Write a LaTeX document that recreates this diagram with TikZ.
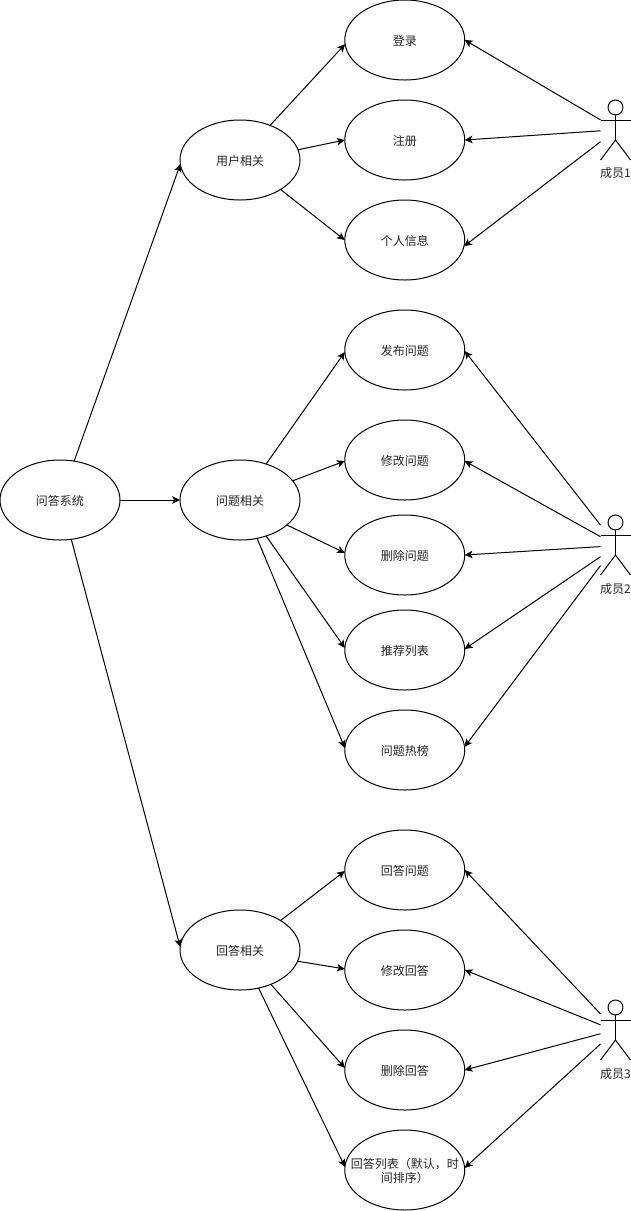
\documentclass[tikz,border=0pt]{standalone}
\usepackage{fontspec}
\setmainfont{Noto Sans CJK SC}
\usetikzlibrary{arrows.meta,shapes.geometric,calc}
\tikzset{
  uc/.style={ellipse,draw=black,line width=0.75pt,minimum width=90pt,minimum height=60pt,inner sep=0pt,outer sep=0pt,font=\fontsize{9}{11}\selectfont,text=black!85,text height=8pt,text depth=0pt},
  actorbox/.style={rectangle,draw=none,minimum width=22.5pt,minimum height=45pt,inner sep=0pt,outer sep=0pt},
  actorline/.style={line width=0.75pt,draw=black},
  actorname/.style={font=\fontsize{9}{11}\selectfont,text=black!85,inner sep=0pt,text height=8pt,text depth=0pt},
  conn/.style={line width=0.75pt,draw=black,-{Stealth[length=5.8pt,width=5.6pt,inset=1.4pt]}}
}
\newcommand{\stickfigure}[1]{%
  \draw[actorline] ($(#1.north)+(0,-5.6pt)$) circle[radius=5.6pt];
  \draw[actorline] ($(#1.north)+(0,-11.25pt)$) -- ($(#1.north)+(0,-30pt)$);
  \draw[actorline] ($(#1.north west)+(0,-15pt)$) -- ($(#1.north east)+(0,-15pt)$);
  \draw[actorline] (#1.south west) -- ($(#1.north)+(0,-30pt)$) -- (#1.south east);
}
\begin{document}
\begin{tikzpicture}[x=0.75pt,y=-0.75pt]
\useasboundingbox[fill=white] (0,0) rectangle (631,1211);
% root and groups
\node[uc] (root) at (60,500) {问答系统};
\node[uc] (m1) at (240,160) {用户相关};
\node[uc] (m2) at (240,500) {问题相关};
\node[uc] (m3) at (240,950) {回答相关};
% use cases
\node[uc] (u1) at (404.75,40) {登录};
\node[uc] (u2) at (404.75,140) {注册};
\node[uc] (u3) at (404.75,240) {个人信息};
\node[uc] (q1) at (404.75,350) {发布问题};
\node[uc] (q2) at (404.75,460) {修改问题};
\node[uc] (q3) at (404.75,555) {删除问题};
\node[uc] (q4) at (404.75,650) {推荐列表};
\node[uc] (q5) at (404.75,750) {问题热榜};
\node[uc] (a1) at (404.75,870) {回答问题};
\node[uc] (a2) at (404.75,970) {修改回答};
\node[uc] (a3) at (404.75,1070) {删除回答};
\node[uc,label={[font=\fontsize{9}{10.5}\selectfont,text=black!85,align=center,inner sep=0pt,yshift=-0.75pt]center:回答列表（默认，时\\间排序）}] (a4) at (404.75,1170) {};
% actors
\node[actorbox] (p1) at (615.5,130) {};
\node[actorbox] (p2) at (615.5,545) {};
\node[actorbox] (p3) at (615.5,1030) {};
\stickfigure{p1}
\stickfigure{p2}
\stickfigure{p3}
\node[actorname] (p1n) at (615.5,172.5) {成员1};
\node[actorname] (p2n) at (615.5,588) {成员2};
\node[actorname] (p3n) at (615.5,1073) {成员3};
% root connectors
\draw[conn] (root.70.4) -- (m1.184);
\draw[conn] (root.east) -- (m2.west);
\draw[conn] (root.-74.6) -- (m3.177);
% group 1
\draw[conn] (m1.49.4) -- (u1.184.8);
\draw[conn] (m1.10.7) -- (u2.west);
\draw[conn] (m1.-36.2) -- (u3.west);
% group 2
\draw[conn] (m2.54.4) -- (q1.182);
\draw[conn] (m2.20.6) -- (q2.181.6);
\draw[conn] (m2.-28.4) -- (q3.178);
\draw[conn] (m2.-54.7) -- (q4.178);
\draw[conn] (m2.-66) -- (q5.178);
% group 3
\draw[conn] (m3.36.9) -- (a1.181.6);
\draw[conn] (m3.-11.3) -- (a2.179);
\draw[conn] (m3.-48.7) -- (a3.178);
\draw[conn] (m3.-64) -- (a4.177);
% actor 1
\draw[conn] (p1.146.3) -- (u1.east);
\draw[conn] (p1.183.8) -- (u2.east);
\draw[conn] (p1.218.7) -- (u3.-6.4);
% actor 2
\draw[conn] (p2.127.8) -- (q1.-1.6);
\draw[conn] (p2.151.9) -- (q2.-1.6);
\draw[conn] (p2.186.5) -- (q3.east);
\draw[conn] (p2.218) -- (q4.1);
\draw[conn] (p2.234.5) -- (q5.3.2);
% actor 3
\draw[conn] (p3.133.2) -- (a1.east);
\draw[conn] (p3.161.6) -- (a2.east);
\draw[conn] (p3.194.9) -- (a3.east);
\draw[conn] (p3.223) -- (a4.2);
\end{tikzpicture}
\end{document}
